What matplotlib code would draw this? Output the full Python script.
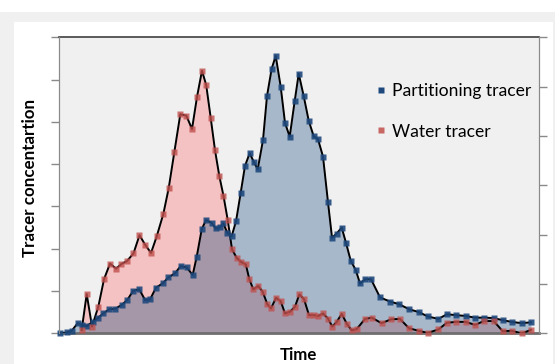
import numpy as np
import matplotlib
matplotlib.use("Agg")
import matplotlib.pyplot as plt
from matplotlib.lines import Line2D
from matplotlib.patches import Rectangle

# time (arbitrary units 0-100) and concentration readings
t_part = [0.2, 1.6, 2.65, 3.9, 4.85, 5.77, 7.02, 8.19, 9.23, 10.48, 11.67, 13.06, 14.23,
          15.48, 16.73, 17.92, 18.96, 20.21, 21.6, 22.77, 24.17, 25.35, 26.6, 27.85, 28.69,
          29.73, 30.63, 31.81, 32.65, 33.54, 34.23, 35.06, 35.98, 36.88, 37.85, 38.75, 39.73,
          40.56, 41.4, 42.5, 43.33, 44.31, 45.15, 46.19, 47.08, 48.06, 49.1, 49.94, 50.98,
          52.02, 53.06, 53.96, 55.0, 56.04, 56.88, 57.85, 58.9, 59.79, 60.77, 61.81, 62.71,
          63.81, 65.0, 66.88, 68.96, 70.83, 72.92, 75.0, 76.81, 79.02, 80.83, 82.71, 84.73,
          86.67, 88.54, 90.56, 92.44, 94.31, 96.4, 98.33]
c_part = [0.0, 0.02, 0.06, 0.24, 0.2, 0.17, 0.27, 0.37, 0.47, 0.57, 0.58, 0.67, 0.79,
          1.01, 1.04, 0.79, 0.8, 1.08, 1.18, 1.32, 1.42, 1.59, 1.56, 1.38, 1.81,
          2.46, 2.68, 2.61, 2.48, 2.51, 2.6, 2.38, 2.3, 2.65, 3.32, 3.96, 4.26,
          4.06, 3.88, 4.57, 5.61, 6.26, 6.56, 5.83, 4.98, 4.65, 5.49, 6.14, 5.61,
          5.03, 4.66, 4.59, 4.18, 3.1, 2.26, 2.36, 2.5, 2.14, 1.72, 1.5, 1.18,
          1.28, 1.28, 0.85, 0.75, 0.69, 0.57, 0.5, 0.4, 0.34, 0.45, 0.43, 0.41,
          0.37, 0.37, 0.36, 0.31, 0.27, 0.24, 0.26]

t_water = [4.73, 5.77, 6.88, 8.19, 9.38, 10.63, 11.88, 13.02, 14.17, 15.52, 16.77, 17.92,
           19.17, 20.35, 21.73, 22.85, 24.02, 25.27, 26.52, 27.71, 28.75, 29.79, 30.67,
           31.6, 32.5, 33.4, 34.27, 35.15, 36.04, 36.98, 37.92, 38.92, 39.65, 40.48, 41.52,
           42.44, 43.4, 44.17, 45.21, 46.19, 47.08, 48.13, 49.17, 50.06, 51.04, 52.08,
           53.06, 54.02, 55.0, 56.04, 56.94, 57.85, 58.9, 59.94, 60.98, 62.02, 63.75,
           65.15, 67.19, 69.17, 71.04, 72.92, 74.9, 76.81, 79.02, 80.83, 82.71, 84.73,
           86.67, 88.54, 90.56, 92.44, 94.31, 96.4, 98.33]
c_water = [0.08, 0.93, 0.16, 0.63, 1.28, 1.65, 1.53, 1.64, 1.71, 1.89, 2.32, 2.1,
           1.9, 2.29, 2.82, 3.43, 4.28, 5.18, 5.15, 4.83, 5.59, 6.21, 5.87,
           5.1, 4.33, 3.72, 3.25, 2.68, 1.99, 1.79, 1.69, 1.63, 1.28, 1.04, 1.12,
           0.98, 0.69, 0.59, 0.84, 0.76, 0.47, 0.51, 0.63, 0.92, 0.81, 0.43,
           0.43, 0.41, 0.47, 0.35, 0.16, 0.27, 0.46, 0.23, 0.07, 0.1, 0.34,
           0.37, 0.24, 0.33, 0.34, 0.12, 0.06, 0.01, 0.09, 0.25, 0.27, 0.27,
           0.2, 0.29, 0.29, 0.05, 0.06, 0.0, 0.08]

labels = ["Partitioning tracer", "Water tracer"]

blue = "#1f497d"
red = "#c0504d"

fig = plt.figure(figsize=(5.55, 3.64), dpi=100)
fig.patch.set_facecolor("white")
# grey frame round the white chart panel
fig.add_artist(Rectangle((0, 0), 1, 352 / 364, transform=fig.transFigure,
                         facecolor="#f0f0f0", edgecolor="none", zorder=-10))
fig.add_artist(Rectangle((14 / 555, 0), 539 / 555, 342 / 364, transform=fig.transFigure,
                         facecolor="white", edgecolor="none", zorder=-9))

ax = fig.add_axes([59 / 555, 30.7 / 364, 480 / 555, 296 / 364])
ax.set_facecolor("#f0f0f0")

# filled areas, with the overlap in its own colour
ax.fill_between(t_water, 0, c_water, color="#f4c2c3", lw=0, zorder=1)
ax.fill_between(t_part, 0, c_part, color="#a8b8cb", lw=0, zorder=1)
grid = np.linspace(0, 100, 3000)
low = np.minimum(np.interp(grid, t_part, c_part, left=0, right=0),
                 np.interp(grid, t_water, c_water, left=0, right=0))
ax.fill_between(grid, 0, low, color="#a596a8", lw=0, zorder=2)

ax.plot(t_part, c_part, color="black", lw=1.4, zorder=3)
ax.plot(t_water, c_water, color="black", lw=1.4, zorder=3)
ax.plot(t_part, c_part, ls="none", marker="s", ms=4.5, mec="none", mfc=blue,
        alpha=0.9, zorder=4, clip_on=False)
ax.plot(t_water, c_water, ls="none", marker="s", ms=4.5, mec="none", mfc=red,
        alpha=0.8, zorder=4, clip_on=False)

ax.set_xlim(0, 100)
ax.set_ylim(0, 7)
ax.set_xticks([])
ax.set_yticks(range(0, 8))
ax.set_yticklabels([])
ax.tick_params(axis="y", direction="out", length=6, color="#8a8a8a", width=1)
for s in ["left", "right"]:
    ax.spines[s].set_color("#8a8a8a")
ax.spines["top"].set_color("#404040")
ax.spines["top"].set_linewidth(1.2)
ax.spines["bottom"].set_color("#6e6e6e")
ax.spines["bottom"].set_linewidth(2)

ax2 = ax.twinx()
ax2.set_ylim(0, 6)
ax2.set_yticks(range(0, 7))
ax2.set_yticklabels([])
ax2.tick_params(axis="y", direction="out", length=6, color="#8a8a8a", width=1)
for s in ["left", "right"]:
    ax2.spines[s].set_color("#8a8a8a")
ax2.spines["top"].set_visible(False)
ax2.spines["bottom"].set_visible(False)

handles = [Line2D([], [], ls="none", marker="s", ms=5, mec="none", mfc=blue),
           Line2D([], [], ls="none", marker="s", ms=5, mec="none", mfc=red, alpha=0.85)]
ax.legend(handles, labels, loc="upper left", bbox_to_anchor=(366 / 555, 1 - 74 / 364),
          bbox_transform=fig.transFigure, frameon=False, borderpad=0,
          handlelength=0.7, handletextpad=0.3, labelspacing=1.42,
          prop={"family": "Lato", "size": 12.6})

fig.text(30 / 555, 1 - 178 / 364, "Tracer concentartion", rotation=90, ha="center",
         va="center", fontsize=12.2, fontweight="bold", family="Lato")
fig.text(298 / 555, 1 - 355.5 / 364, "Time", ha="center", va="center",
         fontsize=12.2, fontweight="bold", family="Lato")

fig.savefig("out.png", dpi=100)
